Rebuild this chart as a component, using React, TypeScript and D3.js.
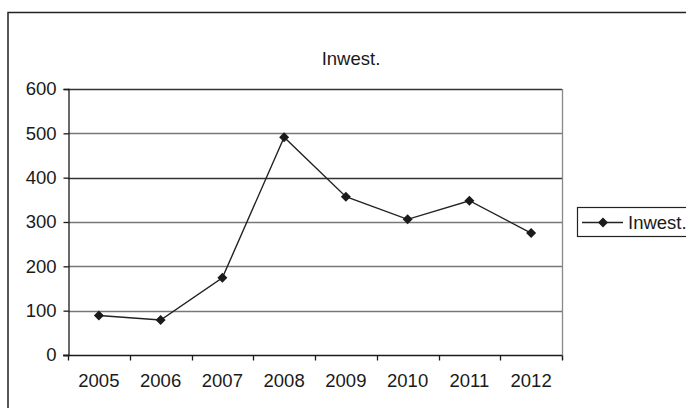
import * as d3 from "d3";
import React from "react";
import { useEffect, useRef } from "react";

const years = ["2005", "2006", "2007", "2008", "2009", "2010", "2011", "2012"];
const inwest = [89, 79, 174, 491, 357, 306, 348, 275];
const yTicks = [0, 100, 200, 300, 400, 500, 600];
const seriesName = "Inwest.";

const App = () => {
    const chartArea = useRef(null);
    const width = 686, height = 408;
    const margin = { top: 89, right: 124, bottom: 53, left: 68 };
    const font = "'Liberation Sans', Arial, sans-serif";
    const fontSize = "18.5px";
    const ink = "#1a1a1a";

    useEffect(() => {
        createChart();
    }, []);

    const createChart = () => {
        const svg = d3.select(chartArea.current);
        svg.selectAll("*").remove();

        const x = d3.scaleBand()
            .domain(years)
            .range([margin.left, width - margin.right]);
        const y = d3.scaleLinear()
            .domain([0, 600])
            .range([height - margin.bottom, margin.top]);

        // outer chart frame (only left and top visible)
        svg.append("path")
            .attr("d", `M8,${height + 2}V12.5H${width + 2}`)
            .attr("fill", "none")
            .attr("stroke", "#222")
            .attr("stroke-width", 1.5);

        svg.append("text")
            .attr("x", 351)
            .attr("y", 65)
            .attr("text-anchor", "middle")
            .attr("font-family", font)
            .attr("font-size", fontSize)
            .attr("fill", ink)
            .text(seriesName);

        // grid lines
        svg.append("g")
            .selectAll("line")
            .data(yTicks.filter(t => t > 0))
            .enter()
            .append("line")
            .attr("x1", margin.left)
            .attr("x2", width - margin.right)
            .attr("y1", d => Math.round(y(d)) + 0.5)
            .attr("y2", d => Math.round(y(d)) + 0.5)
            .attr("stroke", d => (d === 400 || d === 600 ? "#333" : "#777"))
            .attr("stroke-width", 1.3);

        // right border of plot area
        svg.append("line")
            .attr("x1", width - margin.right + 0.5)
            .attr("x2", width - margin.right + 0.5)
            .attr("y1", y(600))
            .attr("y2", y(0) + 5)
            .attr("stroke", "#888")
            .attr("stroke-width", 1.3);

        // y axis
        const yAxis = svg.append("g")
            .attr("transform", `translate(${margin.left + 0.5},0)`)
            .call(d3.axisLeft(y).tickValues(yTicks).tickSize(5).tickPadding(7));
        yAxis.select(".domain").attr("stroke", ink).attr("stroke-width", 1.3);
        yAxis.selectAll(".tick line").attr("stroke", ink).attr("stroke-width", 1.3);
        yAxis.selectAll("text")
            .attr("font-family", font)
            .attr("font-size", fontSize)
            .attr("fill", ink);

        // x axis: ticks at category boundaries
        const xAxisG = svg.append("g")
            .attr("transform", `translate(0,${Math.round(y(0)) + 0.5})`);
        xAxisG.append("line")
            .attr("x1", margin.left - 5)
            .attr("x2", width - margin.right)
            .attr("stroke", ink)
            .attr("stroke-width", 1.3);
        const bounds = years.map(yr => x(yr) as number).concat([width - margin.right]);
        xAxisG.selectAll(".bt")
            .data(bounds)
            .enter()
            .append("line")
            .attr("class", "bt")
            .attr("x1", d => Math.round(d) + 0.5)
            .attr("x2", d => Math.round(d) + 0.5)
            .attr("y1", 0)
            .attr("y2", 5)
            .attr("stroke", ink)
            .attr("stroke-width", 1.3);
        xAxisG.selectAll(".lbl")
            .data(years)
            .enter()
            .append("text")
            .attr("class", "lbl")
            .attr("x", d => (x(d) as number) + x.bandwidth() / 2)
            .attr("y", 31)
            .attr("text-anchor", "middle")
            .attr("font-family", font)
            .attr("font-size", fontSize)
            .attr("fill", ink)
            .text(d => d);

        // line
        const cx = (i: number) => (x(years[i]) as number) + x.bandwidth() / 2;
        const line = d3.line<number>()
            .x((d, i) => cx(i))
            .y(d => y(d));
        svg.append("path")
            .datum(inwest)
            .attr("d", line)
            .attr("fill", "none")
            .attr("stroke", "#222")
            .attr("stroke-width", 1.4);

        const diamond = d3.symbol().type(d3.symbolDiamond2).size(64);
        svg.append("g")
            .selectAll("path")
            .data(inwest)
            .enter()
            .append("path")
            .attr("d", diamond)
            .attr("transform", (d, i) => `translate(${cx(i)},${y(d)})`)
            .attr("fill", "#1a1a1a");

        // legend
        const lg = svg.append("g").attr("transform", "translate(577,207)");
        lg.append("rect")
            .attr("x", 0.5)
            .attr("y", 0.5)
            .attr("width", 130)
            .attr("height", 29)
            .attr("fill", "white")
            .attr("stroke", "#222")
            .attr("stroke-width", 1.2);
        lg.append("line")
            .attr("x1", 5)
            .attr("x2", 46)
            .attr("y1", 15.5)
            .attr("y2", 15.5)
            .attr("stroke", "#222")
            .attr("stroke-width", 1.4);
        lg.append("path")
            .attr("d", diamond)
            .attr("transform", "translate(26,15.5)")
            .attr("fill", "#1a1a1a");
        lg.append("text")
            .attr("x", 51)
            .attr("y", 21.5)
            .attr("font-family", font)
            .attr("font-size", fontSize)
            .attr("fill", ink)
            .text(seriesName);
    };

    return (
        <svg
            ref={chartArea}
            width={width}
            height={height}
            style={{ position: "absolute", left: 0, top: 0, background: "white" }}
        />
    );
};

export default App;
